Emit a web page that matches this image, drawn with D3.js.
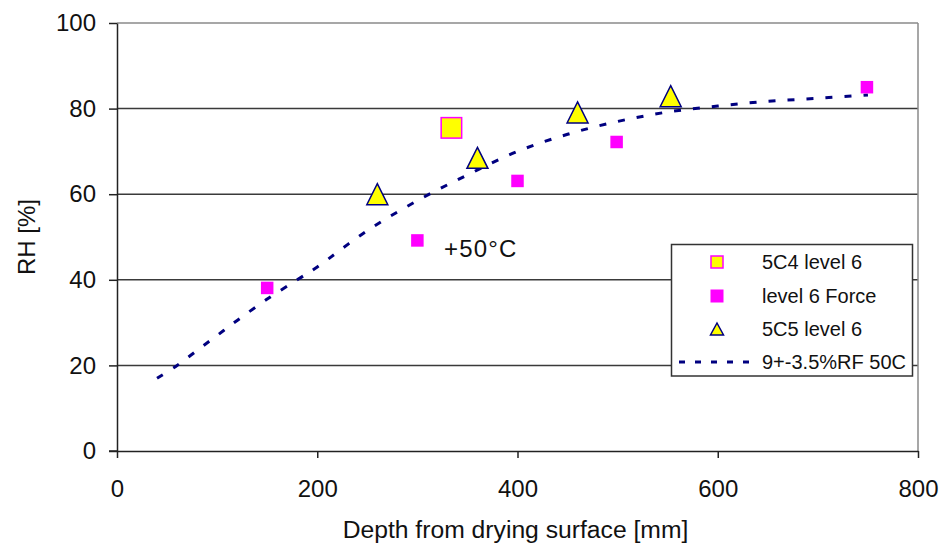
<!DOCTYPE html>
<html>
<head>
<meta charset="utf-8">
<script src="https://cdn.jsdelivr.net/npm/d3@7/dist/d3.min.js"></script>
<style>
  html, body { margin: 0; padding: 0; background: #fff; }
  svg { display: block; font-family: "Liberation Sans", Arial, sans-serif; }
</style>
</head>
<body>
<svg id="chart" width="943" height="549"></svg>
<script>
// ---- data ----
const xTicks = [0, 200, 400, 600, 800];
const yTicks = [0, 20, 40, 60, 80, 100];

const c4Depth = [334];
const c4RH = [75.5];

const forceDepth = [150, 300, 400, 499, 749];
const forceRH = [38.1, 49.2, 63.1, 72.2, 85.0];

const c5Depth = [260, 360, 460, 553];
const c5RH = [60.0, 68.5, 79.1, 82.9];

const fitDepth = [40, 60, 80, 100, 120, 150, 180, 200, 250, 300, 350, 400, 450, 500, 550, 600, 650, 700, 750];
const fitRH = [17, 20, 23.5, 27, 30.5, 35.5, 40, 43, 51.5, 58.5, 64.5, 70, 74, 77, 79.2, 80.6, 81.7, 82.4, 83.2];

const legendLabels = ["5C4 level 6", "level 6 Force", "5C5 level 6", "9+-3.5%RF 50C"];
const annotation = "+50°C";
const xTitle = "Depth from drying surface [mm]";
const yTitle = "RH [%]";

// ---- layout ----
const svg = d3.select("#chart");
const pL = 117, pR = 918, pT = 23, pB = 451;
const x = d3.scaleLinear().domain([0, 800]).range([pL, pR]);
const y = d3.scaleLinear().domain([0, 100]).range([pB, pT]);

const navy = "#000080", magenta = "#ff00ff", yellow = "#ffff00";

// gridlines
svg.append("g").selectAll("line").data(yTicks.filter(v => v > 0)).join("line")
  .attr("x1", pL).attr("x2", pR)
  .attr("y1", d => y(d)).attr("y2", d => y(d))
  .attr("stroke", d => d === 100 ? "#8a8a8a" : "#3a3a3a")
  .attr("stroke-width", 1.5);

// right border
svg.append("line").attr("x1", pR).attr("x2", pR)
  .attr("y1", pT).attr("y2", pB)
  .attr("stroke", "#8a8a8a").attr("stroke-width", 1.5);

// axes
const yAxis = d3.axisLeft(y).tickValues(yTicks).tickSize(8).tickSizeOuter(0).tickPadding(13);
const gy = svg.append("g").attr("transform", `translate(${pL},0)`).call(yAxis);
gy.select(".domain").attr("stroke", "#222").attr("stroke-width", 1.5);
gy.selectAll(".tick line").attr("stroke", "#222").attr("stroke-width", 1.5);
gy.selectAll(".tick text").attr("font-size", 24).attr("fill", "#111")
  .attr("font-family", "'Liberation Sans', Arial, sans-serif");

const xAxis = d3.axisBottom(x).tickValues(xTicks).tickSize(7).tickSizeOuter(0).tickPadding(22);
const gx = svg.append("g").attr("transform", `translate(0,${pB})`).call(xAxis);
gx.select(".domain").attr("stroke", "#222").attr("stroke-width", 1.5);
gx.selectAll(".tick line").attr("stroke", "#222").attr("stroke-width", 1.5);
gx.selectAll(".tick text").attr("font-size", 24).attr("fill", "#111")
  .attr("font-family", "'Liberation Sans', Arial, sans-serif");
svg.append("line").attr("x1", pL - 8).attr("x2", pL).attr("y1", pB).attr("y2", pB)
  .attr("stroke", "#222").attr("stroke-width", 1.5);

// axis titles
svg.append("text").attr("x", (pL + pR) / 2 - 2).attr("y", 538)
  .attr("text-anchor", "middle").attr("font-size", 24.7).attr("fill", "#111").text(xTitle);
svg.append("text").attr("transform", `translate(35,237) rotate(-90)`)
  .attr("text-anchor", "middle").attr("font-size", 24).attr("fill", "#111").text(yTitle);

// fitted dashed curve
const fitData = fitDepth.map((d, i) => [d, fitRH[i]]);
svg.append("path").datum(fitData)
  .attr("d", d3.line().x(d => x(d[0])).y(d => y(d[1])).curve(d3.curveCatmullRom))
  .attr("fill", "none").attr("stroke", navy).attr("stroke-width", 3)
  .attr("stroke-dasharray", "7,12");

// level 6 Force squares
const fSize = 12.5;
svg.append("g").selectAll("rect").data(forceDepth.map((d, i) => [d, forceRH[i]])).join("rect")
  .attr("x", d => x(d[0]) - fSize / 2).attr("y", d => y(d[1]) - fSize / 2)
  .attr("width", fSize).attr("height", fSize).attr("fill", magenta);

// 5C4 big square
const bSize = 20.5;
svg.append("g").selectAll("rect").data(c4Depth.map((d, i) => [d, c4RH[i]])).join("rect")
  .attr("x", d => x(d[0]) - bSize / 2).attr("y", d => y(d[1]) - bSize / 2)
  .attr("width", bSize).attr("height", bSize)
  .attr("fill", yellow).attr("stroke", magenta).attr("stroke-width", 1.5);

// 5C5 triangles
function tri(cx, cy, w, h) {
  return `M${cx},${cy - h / 2}L${cx + w / 2},${cy + h / 2}L${cx - w / 2},${cy + h / 2}Z`;
}
svg.append("g").selectAll("path").data(c5Depth.map((d, i) => [d, c5RH[i]])).join("path")
  .attr("d", d => tri(x(d[0]), y(d[1]), 21, 21))
  .attr("fill", yellow).attr("stroke", navy).attr("stroke-width", 1.5)
  .attr("stroke-linejoin", "miter");

// annotation
svg.append("text").attr("x", 444).attr("y", 257).attr("font-size", 24).attr("fill", "#111")
  .attr("letter-spacing", 1.2).text(annotation);

// legend
const lg = svg.append("g");
lg.append("rect").attr("x", 671.5).attr("y", 244.5).attr("width", 241).attr("height", 131.5)
  .attr("fill", "#fff").attr("stroke", "#333").attr("stroke-width", 1.5);
const rows = [262, 296, 329, 362];
const mx = 717, tx = 762;
lg.append("rect").attr("x", mx - 6).attr("y", rows[0] - 6).attr("width", 12).attr("height", 12)
  .attr("fill", yellow).attr("stroke", magenta).attr("stroke-width", 1.5);
lg.append("rect").attr("x", mx - 6.5).attr("y", rows[1] - 6.5).attr("width", 13).attr("height", 13)
  .attr("fill", magenta);
lg.append("path").attr("d", tri(mx, rows[2], 13, 12))
  .attr("fill", yellow).attr("stroke", navy).attr("stroke-width", 1.5);
lg.append("line").attr("x1", 679).attr("x2", 758).attr("y1", rows[3]).attr("y2", rows[3])
  .attr("stroke", navy).attr("stroke-width", 3).attr("stroke-dasharray", "6,10");
lg.selectAll("text.lab").data(legendLabels).join("text").attr("class", "lab")
  .attr("x", tx).attr("y", (d, i) => rows[i]).attr("dy", "0.35em")
  .attr("font-size", 20).attr("fill", "#111").text(d => d);
</script>
</body>
</html>
